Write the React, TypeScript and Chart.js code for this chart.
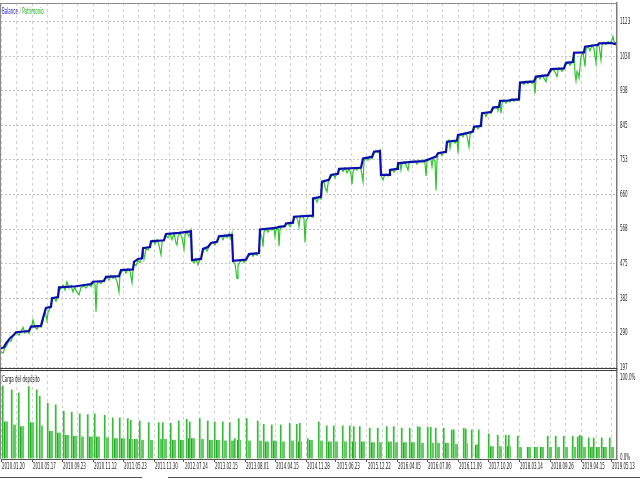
import React, { useEffect, useRef } from 'react';
import { Chart, registerables } from 'chart.js';

Chart.register(...registerables);

// ---- data (trade index along x) ----
const dateLabels = ['2010.01.20', '2010.05.17', '2010.09.23', '2010.11.12', '2011.05.23', '2011.11.30', '2012.07.24', '2013.02.15', '2013.08.01', '2014.04.15', '2014.11.28', '2015.06.23', '2015.12.22', '2016.04.05', '2016.07.06', '2016.11.09', '2017.10.20', '2018.03.14', '2018.09.26', '2019.04.15', '2019.05.13'];
const dateTrades = [0, 31, 61, 92, 122, 153, 183, 213, 244, 274, 305, 335, 366, 396, 426, 457, 487, 518, 549, 580, 610];

const yTickLabels = ['197', '290', '382', '475', '568', '660', '753', '845', '938', '1030', '1123'];
const loadTickLabels = ['0.0%', '100.0%'];
const loadTickValues = [0, 100];

const balance: [number, number][] = [
  [0, 248], [3, 252], [5, 262], [9, 276], [13, 285], [15, 292], [28, 295], [30, 307], [40, 309], [42, 330],
  [45, 357], [50, 360], [51, 383], [57, 386], [58, 412], [75, 415], [90, 421], [92, 427], [103, 429], [105, 440],
  [118, 442], [120, 458], [132, 460], [133, 480], [137, 488], [141, 490], [142, 517], [149, 520], [150, 535], [163, 538],
  [165, 555], [178, 558], [190, 562], [191, 485], [200, 488], [202, 515], [207, 520], [210, 531], [216, 534], [218, 549],
  [231, 552], [232, 483], [245, 486], [248, 501], [258, 504], [259, 567], [275, 571], [278, 574], [284, 576], [285, 583],
  [292, 585], [293, 601], [311, 604], [312, 650], [320, 654], [321, 695], [328, 700], [330, 713], [337, 716], [338, 729],
  [360, 732], [362, 757], [371, 761], [373, 775], [379, 777], [380, 713], [388, 713], [389, 726], [396, 729], [397, 744],
  [410, 748], [423, 750], [430, 757], [435, 762], [437, 771], [445, 775], [446, 802], [456, 805], [457, 820], [465, 824],
  [472, 829], [473, 842], [480, 844], [481, 878], [490, 881], [492, 893], [498, 895], [499, 911], [508, 912], [510, 914],
  [518, 915], [519, 960], [533, 963], [535, 976], [547, 980], [550, 996], [563, 998], [565, 1013], [572, 1015], [573, 1040],
  [583, 1041], [584, 1056], [597, 1061], [598, 1065], [610, 1066], [615, 1063],
];

const equity: [number, number][] = [
  [0, 240], [2, 236], [4, 250], [6, 258], [8, 270], [10, 268], [12, 282], [14, 288],
  [16, 290], [18, 284], [20, 294], [22, 305], [24, 290], [26, 297], [28, 289],
  [29, 300], [31, 312], [32, 325], [34, 305], [36, 300], [38, 310], [40, 306],
  [42, 322], [44, 350], [46, 323], [47, 345], [49, 356],
  [51, 378], [53, 384], [55, 375], [57, 392],
  [59, 406], [62, 418], [64, 405], [66, 427], [68, 410], [70, 417], [72, 400], [74, 414], [75, 403], [78, 392], [80, 412], [83, 416], [85, 410], [88, 420], [90, 414],
  [92, 424], [94, 420], [95, 347], [96, 420], [98, 428], [100, 422], [102, 430],
  [104, 436], [106, 438], [108, 432], [110, 444], [112, 436], [114, 440], [116, 428], [118, 400], [119, 445],
  [121, 455], [123, 460], [125, 450], [127, 462], [129, 455], [131, 425], [132, 458],
  [133, 476], [135, 470], [137, 484], [139, 478], [141, 492],
  [142, 512], [143, 488], [145, 515], [147, 512], [149, 522],
  [150, 530], [152, 538], [154, 528], [156, 540], [158, 525], [160, 499], [161, 532], [163, 540],
  [165, 550], [167, 545], [169, 556], [171, 540], [173, 557], [175, 530], [176, 525], [177, 548], [179, 558], [181, 545], [183, 515], [184, 552], [186, 560], [188, 548], [190, 565],
  [191, 483], [193, 478], [195, 488], [197, 472], [198, 482], [200, 490],
  [202, 510], [204, 518], [206, 509], [208, 522], [210, 528], [212, 534], [214, 526], [216, 536],
  [218, 546], [220, 550], [222, 540], [224, 552], [226, 545], [228, 555], [230, 540], [231, 555],
  [232, 480], [234, 475], [236, 436], [237, 470], [239, 480], [241, 486], [243, 478], [245, 488],
  [248, 497], [250, 503], [252, 495], [254, 504], [256, 498], [258, 506],
  [259, 560], [261, 545], [262, 521], [263, 560], [265, 568], [267, 560], [269, 570], [271, 565], [273, 572], [274, 548], [275, 565], [277, 573], [278, 523], [279, 568], [281, 575], [283, 572],
  [285, 580], [287, 584], [289, 575], [291, 587],
  [293, 596], [295, 602], [297, 590], [298, 574], [299, 598], [301, 605], [303, 595], [304, 532], [305, 590], [307, 600], [309, 606], [311, 600],
  [312, 645], [314, 652], [316, 640], [318, 655], [320, 648],
  [321, 690], [323, 697], [324, 680], [326, 668], [327, 690], [328, 702],
  [330, 708], [332, 715], [334, 705], [336, 718],
  [338, 725], [340, 730], [342, 722], [344, 732], [346, 718], [348, 730], [350, 715], [351, 688], [352, 722], [354, 732], [356, 726], [358, 734], [360, 728],
  [362, 695], [363, 750], [365, 760], [367, 752], [369, 763], [371, 756], [373, 770], [375, 778], [377, 772], [379, 780],
  [380, 710], [381, 705], [382, 699], [383, 708], [385, 715], [387, 710],
  [389, 722], [391, 728], [393, 720], [395, 730],
  [397, 740], [399, 745], [400, 726], [401, 742], [403, 748], [405, 740], [407, 726], [408, 744], [410, 749],
  [412, 745], [414, 750], [416, 742], [418, 752], [420, 748], [422, 753], [424, 745], [425, 710], [426, 748], [428, 756], [430, 752], [431, 735], [432, 755], [434, 750], [435, 671], [436, 755],
  [437, 768], [439, 773], [441, 765], [443, 776], [445, 772],
  [446, 798], [448, 806], [449, 784], [450, 800], [452, 806], [454, 798], [456, 807],
  [457, 771], [458, 815], [460, 822], [462, 815], [464, 826], [466, 818], [468, 788], [469, 820], [471, 830],
  [473, 838], [475, 844], [477, 836], [479, 846],
  [481, 874], [483, 880], [485, 869], [486, 876], [488, 882], [490, 878],
  [492, 889], [494, 895], [496, 892], [497, 887], [498, 896],
  [499, 906], [500, 878], [501, 905], [503, 913], [505, 905], [507, 914], [509, 908], [511, 916], [513, 910], [515, 917], [517, 912],
  [519, 955], [521, 962], [523, 955], [525, 964], [527, 957], [529, 965], [531, 958], [533, 962],
  [534, 931], [535, 970], [537, 977], [539, 970], [541, 980], [543, 972], [545, 962], [546, 975], [547, 982],
  [550, 990], [552, 997], [554, 988], [556, 976], [557, 992], [559, 999], [561, 990], [563, 1000],
  [565, 1008], [567, 1015], [569, 1006], [571, 1016],
  [573, 1035], [574, 985], [575, 965], [576, 990], [577, 985], [578, 972], [579, 1000], [580, 1030], [582, 1042],
  [584, 1003], [585, 1050], [587, 1058], [589, 1045], [591, 1060], [593, 1050], [595, 1012], [596, 1055], [597, 1062],
  [598, 1060], [600, 1021], [601, 1060], [603, 1068], [605, 1062], [607, 1070], [609, 1064], [611, 1075], [612, 1083], [613, 1070], [615, 1066],
];

// deposit load (%) : peak bars and the lower blocks that follow them
const loadPeaks: [number, number][] = [
  [2, 92], [11, 87], [18, 83], [28, 91], [36, 87], [39, 79], [47, 70], [55, 68], [63, 60], [71, 59],
  [79, 57], [87, 56], [94, 57], [104, 55], [112, 52], [119, 52], [127, 51], [130, 49], [139, 48], [148, 46],
  [158, 46], [162, 46], [170, 45], [178, 48], [186, 50], [189, 47], [199, 51], [207, 48], [214, 47], [222, 47],
  [229, 46], [234, 26], [238, 51], [246, 51], [257, 48], [263, 44], [271, 43], [280, 43], [289, 45], [296, 44],
  [299, 45], [307, 26], [318, 47], [326, 42], [333, 42], [342, 42], [349, 42], [353, 41], [359, 41], [369, 39],
  [377, 39], [386, 41], [393, 41], [401, 39], [409, 39], [417, 41], [419, 40], [427, 40], [430, 40], [435, 39],
  [443, 39], [451, 37], [453, 37], [463, 39], [465, 38], [471, 37], [478, 37], [488, 32], [497, 30], [505, 30],
  [508, 30], [517, 29], [547, 29], [555, 29], [563, 29], [572, 29], [577, 28], [579, 30], [581, 29], [588, 27],
  [593, 27], [601, 27], [609, 27],
];
const loadBlocks: [number, number][] = [
  [5, 47], [13, 43], [21, 41], [31, 46], [40, 42], [50, 35], [58, 33], [66, 30], [74, 29], [81, 28],
  [90, 28], [97, 28], [106, 27], [115, 26], [122, 26], [130, 25], [135, 25], [141, 24], [150, 24], [160, 25],
  [164, 25], [173, 24], [181, 24], [189, 26], [192, 26], [201, 25], [210, 24], [217, 24], [224, 23], [231, 23],
  [238, 24], [248, 23], [259, 23], [266, 22], [274, 23], [282, 22], [291, 23], [299, 22], [310, 24], [320, 23],
  [329, 22], [335, 22], [344, 22], [353, 22], [362, 22], [372, 21], [379, 21], [389, 22], [395, 21], [404, 21],
  [412, 21], [421, 20], [431, 20], [437, 20], [446, 20], [455, 19], [465, 20], [476, 18], [491, 16], [499, 16],
  [508, 16], [519, 15], [528, 15], [535, 15], [541, 15], [549, 15], [557, 15], [565, 15], [573, 15], [583, 15],
  [591, 15], [597, 15], [604, 15], [611, 15],
];

// ---- drawing helpers ----
const SQUEEZE = 0.5;
const FONT = '8px "DejaVu Sans"';

function squeezedText(ctx: CanvasRenderingContext2D, text: string, x: number, y: number, color: string): number {
  ctx.save();
  ctx.font = FONT;
  const w = ctx.measureText(text).width * SQUEEZE;
  ctx.translate(x, y);
  ctx.scale(SQUEEZE, 1);
  ctx.fillStyle = color;
  ctx.textAlign = 'left';
  ctx.textBaseline = 'middle';
  ctx.fillText(text, 0, 0);
  ctx.restore();
  return w;
}

function hline(ctx: CanvasRenderingContext2D, x1: number, x2: number, y: number) {
  ctx.beginPath();
  ctx.moveTo(x1, y);
  ctx.lineTo(x2, y);
  ctx.stroke();
}

const mtPlugin = {
  id: 'mtFrame',
  beforeDraw(chart: any) {
    const ctx = chart.ctx as CanvasRenderingContext2D;
    ctx.save();
    ctx.fillStyle = '#ffffff';
    ctx.fillRect(0, 0, chart.width, chart.height);
    ctx.restore();
  },
  afterDraw(chart: any) {
    const ctx = chart.ctx as CanvasRenderingContext2D;
    const a = chart.chartArea;
    const { x, y, y2 } = chart.scales;
    ctx.save();
    ctx.lineWidth = 1;
    ctx.strokeStyle = '#8a8a8a';
    ctx.beginPath();
    ctx.moveTo(0.5, a.top);
    ctx.lineTo(0.5, a.bottom);
    ctx.stroke();
    hline(ctx, 0, a.right, a.top + 0.5);
    ctx.strokeStyle = '#3c3c3c';
    hline(ctx, 0, a.right, Math.round(y.bottom) - 0.5);
    hline(ctx, 0, a.right, Math.round(y.bottom) + 1.5);
    ctx.strokeStyle = '#505050';
    hline(ctx, 0, 142, chart.height - 2.5);
    hline(ctx, 168, chart.width, chart.height - 2.5);
    ctx.restore();

    // legend
    let lx = 2;
    lx += squeezedText(ctx, 'Balance', lx, 11.5, '#1a1ad0') + 1.5;
    lx += squeezedText(ctx, '/', lx, 11.5, '#909090') + 1.5;
    squeezedText(ctx, 'Patrimonio', lx, 11.5, '#16b016');
    squeezedText(ctx, 'Carga del depósito', 2, y.bottom + 11, '#202020');

    // price axis labels
    y.ticks.forEach((t: any, i: number) => {
      squeezedText(ctx, yTickLabels[i], a.right + 3, y.getPixelForValue(t.value), '#202020');
    });
    y2.ticks.forEach((t: any, i: number) => {
      squeezedText(ctx, loadTickLabels[i], a.right + 3, y2.getPixelForValue(t.value) - 1, '#202020');
    });
    // date labels
    dateTrades.forEach((t, i) => {
      squeezedText(ctx, dateLabels[i], x.getPixelForValue(t) + 1, a.bottom + 8, '#202020');
    });
  },
};

export default function App() {
  const ref = useRef<HTMLCanvasElement | null>(null);

  useEffect(() => {
    if (!ref.current) return;
    const gridTrades: number[] = [];
    dateTrades.forEach((t, i) => {
      gridTrades.push(t);
      if (i < dateTrades.length - 1) gridTrades.push((t + dateTrades[i + 1]) / 2);
    });

    const chart = new Chart(ref.current, {
      type: 'line',
      data: {
        datasets: [
          {
            label: 'Balance',
            data: balance.map(([t, v]) => ({ x: t, y: v })),
            borderColor: '#0c0cb0',
            borderWidth: 2.2,
            pointRadius: 0,
            tension: 0,
            yAxisID: 'y',
            order: 0,
          } as any,
          {
            label: 'Patrimonio',
            data: equity.map(([t, v]) => ({ x: t, y: v })),
            borderColor: '#2ec42e',
            borderWidth: 1.2,
            pointRadius: 0,
            tension: 0,
            yAxisID: 'y',
            order: 1,
          },
          {
            type: 'bar',
            label: 'Carga del depósito',
            data: loadBlocks.map(([t, v]) => ({ x: t, y: v })),
            backgroundColor: '#62cc62',
            borderColor: '#0a9a0a',
            borderWidth: { left: 1, right: 0, top: 0, bottom: 0 },
            borderSkipped: false,
            barThickness: 4,
            grouped: false,
            yAxisID: 'y2',
            order: 3,
          } as any,
          {
            type: 'bar',
            label: 'Carga máx.',
            data: loadPeaks.map(([t, v]) => ({ x: t, y: v })),
            backgroundColor: '#86da86',
            borderColor: '#12a812',
            borderWidth: { left: 1, right: 0, top: 0, bottom: 0 },
            borderSkipped: false,
            barThickness: 2,
            grouped: false,
            yAxisID: 'y2',
            order: 2,
          } as any,
        ],
      },
      options: {
        responsive: false,
        maintainAspectRatio: false,
        animation: false,
        events: [],
        layout: { padding: { top: 3, left: 1, right: 0, bottom: 0 } },
        plugins: { legend: { display: false }, tooltip: { enabled: false } },
        scales: {
          x: {
            type: 'linear',
            min: 0,
            max: 616,
            offset: false,
            afterBuildTicks: (s: any) => {
              s.ticks = gridTrades.map((v) => ({ value: v }));
            },
            afterFit: (s: any) => {
              s.height = 21;
            },
            ticks: { display: false },
            grid: {
              color: '#d2d2d2',
              lineWidth: 1,
              offset: false,
              drawTicks: true,
              tickLength: 3,
              tickColor: (c: any) => (c.index % 2 === 0 ? '#555555' : 'rgba(0,0,0,0)'),
            },
            border: { color: '#555555', width: 1, dash: [3, 3] },
          },
          y: {
            type: 'linear',
            position: 'right',
            stack: 'panels',
            stackWeight: 366,
            min: 193.5,
            max: 1173,
            afterBuildTicks: (s: any) => {
              s.ticks = yTickLabels.map((l) => ({ value: Number(l) }));
            },
            afterFit: (s: any) => {
              s.width = 23;
            },
            ticks: { display: false },
            grid: { color: '#c4c4c4', lineWidth: 1, drawTicks: false },
            border: { color: '#7a7a7a', width: 1.5, dash: [2, 2] },
          },
          y2: {
            type: 'linear',
            position: 'right',
            stack: 'panels',
            stackWeight: 90,
            min: 0,
            max: 112.5,
            afterBuildTicks: (s: any) => {
              s.ticks = loadTickValues.map((v) => ({ value: v }));
            },
            afterFit: (s: any) => {
              s.width = 23;
            },
            ticks: { display: false },
            grid: { drawOnChartArea: false, drawTicks: false },
            border: { color: '#7a7a7a', width: 1.5 },
          },
        },
      } as any,
      plugins: [mtPlugin],
    });
    return () => chart.destroy();
  }, []);

  return (
    <div style={{ position: 'absolute', left: 0, top: 0, width: 640, height: 480, background: '#fff' }}>
      <canvas ref={ref} width={640} height={480} style={{ display: 'block', width: 640, height: 480 }} />
    </div>
  );
}
